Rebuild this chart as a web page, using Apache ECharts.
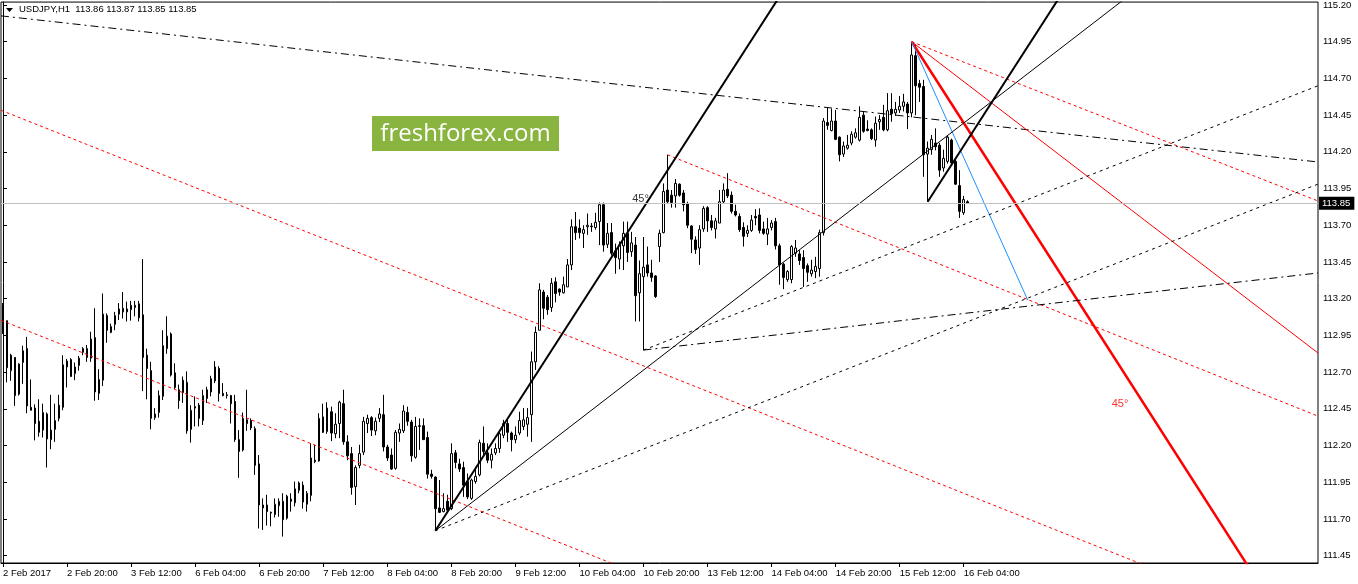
<!DOCTYPE html>
<html>
<head>
<meta charset="utf-8">
<script src="https://cdn.jsdelivr.net/npm/echarts@6/dist/echarts.min.js"></script>
<style>html,body{margin:0;padding:0;background:#fff}#c{width:1358px;height:584px}</style>
</head>
<body>
<div id="c"></div>
<script>
// ---- tick labels ----
const xTickLabels = ['2 Feb 2017','2 Feb 20:00','3 Feb 12:00','6 Feb 04:00','6 Feb 20:00','7 Feb 12:00','8 Feb 04:00','8 Feb 20:00','9 Feb 12:00','10 Feb 04:00','10 Feb 20:00','13 Feb 12:00','14 Feb 04:00','14 Feb 20:00','15 Feb 12:00','16 Feb 04:00'];
const barsPerLabel = 16;
const totalSlots = 329;
const yTicks = [111.45,111.70,111.95,112.20,112.45,112.70,112.95,113.20,113.45,113.70,113.95,114.20,114.45,114.70,114.95,115.20];

// ---- H1 candles (open, close, low, high) ----
const open = [113.16,113.05,112.71,112.80,112.55,112.765,112.86,112.46,112.455,112.365,112.305,112.415,112.24,112.31,112.385,112.46,112.735,112.785,112.69,112.745,112.835,112.86,112.795,112.935,112.555,112.645,113.085,112.97,113.025,113.095,113.11,113.13,113.125,113.14,113.165,113.09,112.815,112.71,112.39,112.425,112.535,112.86,112.96,112.695,112.505,112.56,112.63,112.31,112.455,112.475,112.37,112.52,112.565,112.64,112.725,112.555,112.545,112.54,112.50,112.24,112.17,112.375,112.37,112.315,112.075,111.795,111.795,111.745,111.73,111.79,111.82,111.705,111.835,111.81,111.895,111.93,111.80,111.86,112.10,112.095,112.395,112.295,112.43,112.28,112.35,112.485,112.225,112.145,111.92,112.065,112.155,112.35,112.39,112.30,112.385,112.41,112.19,112.135,112.045,112.285,112.30,112.425,112.36,112.12,112.33,112.335,112.255,112.005,111.985,111.775,111.75,111.82,111.77,112.15,112.075,112.05,111.955,111.84,111.955,112.00,112.215,112.15,112.10,112.15,112.18,112.27,112.35,112.285,112.24,112.285,112.33,112.345,112.41,112.77,112.985,113.245,113.21,113.14,113.315,113.265,113.24,113.28,113.43,113.69,113.68,113.645,113.69,113.69,113.685,113.725,113.84,113.57,113.65,113.525,113.47,113.56,113.645,113.52,113.565,113.24,113.35,113.43,113.375,113.355,113.555,113.65,113.94,113.905,113.90,113.98,113.92,113.845,113.695,113.60,113.545,113.675,113.82,113.73,113.675,113.715,113.86,113.945,113.905,113.795,113.76,113.685,113.645,113.665,113.76,113.77,113.675,113.64,113.685,113.725,113.56,113.435,113.33,113.33,113.51,113.505,113.48,113.425,113.37,113.385,113.405,113.65,114.40,114.345,114.41,114.30,114.185,114.225,114.26,114.30,114.28,114.45,114.355,114.35,114.28,114.405,114.435,114.35,114.49,114.465,114.485,114.51,114.525,114.465,114.855,114.665,114.645,114.185,114.215,114.26,114.245,114.09,114.135,114.28,114.135,113.97,113.785,113.86];
const close = [113.03,112.73,112.815,112.54,112.755,112.845,112.47,112.44,112.35,112.29,112.425,112.245,112.305,112.37,112.475,112.75,112.775,112.67,112.735,112.795,112.86,112.80,112.925,112.565,112.65,113.095,112.985,113.01,113.085,113.13,113.135,113.11,113.155,113.155,113.07,112.80,112.725,112.385,112.415,112.54,112.88,112.945,112.68,112.595,112.58,112.645,112.30,112.44,112.465,112.385,112.54,112.58,112.655,112.735,112.555,112.54,112.54,112.485,112.24,112.16,112.385,112.35,112.32,112.065,111.795,111.775,111.75,111.74,111.80,111.82,111.695,111.855,111.82,111.905,111.945,111.815,111.875,112.115,112.09,112.385,112.29,112.455,112.285,112.345,112.495,112.225,112.13,111.915,112.05,112.145,112.365,112.385,112.305,112.365,112.415,112.19,112.115,112.04,112.29,112.31,112.435,112.365,112.13,112.33,112.335,112.24,112.005,111.99,111.77,111.745,111.77,111.76,112.145,112.085,112.04,111.93,111.85,111.965,111.99,112.22,112.16,112.10,112.14,112.18,112.28,112.35,112.29,112.24,112.27,112.37,112.375,112.39,112.77,112.97,113.26,113.135,113.125,113.305,113.235,113.245,113.295,113.43,113.69,113.65,113.65,113.67,113.70,113.695,113.72,113.84,113.565,113.645,113.51,113.48,113.565,113.645,113.515,113.58,113.22,113.37,113.415,113.375,113.345,113.215,113.645,113.93,113.86,113.855,113.985,113.905,113.84,113.70,113.605,113.535,113.67,113.815,113.73,113.685,113.73,113.86,113.94,113.90,113.795,113.77,113.67,113.625,113.665,113.735,113.75,113.665,113.645,113.675,113.715,113.56,113.43,113.345,113.385,113.555,113.545,113.46,113.405,113.38,113.395,113.42,113.65,114.41,114.38,114.41,114.285,114.18,114.24,114.245,114.32,114.33,114.435,114.34,114.345,114.29,114.395,114.42,114.35,114.48,114.46,114.49,114.51,114.54,114.465,114.86,114.65,114.64,114.18,114.225,114.285,114.235,114.075,114.155,114.30,114.125,113.98,113.795,113.875,113.85];
const low = [112.96,112.63,112.64,112.47,112.54,112.62,112.42,112.44,112.235,112.26,112.255,112.05,112.175,112.225,112.365,112.44,112.595,112.67,112.645,112.71,112.815,112.77,112.77,112.505,112.51,112.605,112.90,112.965,112.985,113.055,113.065,113.045,113.05,113.08,113.045,112.57,112.515,112.31,112.375,112.39,112.51,112.825,112.67,112.585,112.45,112.49,112.28,112.22,112.33,112.33,112.34,112.49,112.535,112.625,112.50,112.535,112.52,112.35,112.225,111.98,112.16,112.30,112.305,112.00,111.635,111.625,111.655,111.65,111.71,111.715,111.58,111.695,111.75,111.785,111.875,111.77,111.75,111.82,112.08,112.09,112.285,112.28,112.23,112.25,112.25,112.205,112.10,111.865,111.795,112.045,112.135,112.285,112.265,112.27,112.36,112.16,112.095,112.035,112.035,112.225,112.285,112.335,112.09,112.11,112.17,112.24,111.975,111.975,111.62,111.74,111.745,111.75,111.76,112.045,112.02,111.85,111.835,111.83,111.94,111.99,112.125,112.08,112.045,112.135,112.15,112.25,112.225,112.16,112.215,112.27,112.305,112.26,112.225,112.715,112.985,113.06,113.09,113.11,113.175,113.22,113.235,113.28,113.395,113.60,113.61,113.545,113.635,113.655,113.67,113.565,113.52,113.545,113.495,113.37,113.40,113.395,113.45,113.485,113.045,113.045,112.85,113.35,113.315,113.205,113.45,113.645,113.85,113.82,113.82,113.895,113.795,113.68,113.51,113.505,113.43,113.655,113.655,113.665,113.61,113.715,113.85,113.885,113.78,113.76,113.655,113.555,113.62,113.655,113.70,113.645,113.635,113.565,113.665,113.535,113.295,113.265,113.315,113.305,113.485,113.43,113.28,113.315,113.35,113.34,113.35,113.63,114.35,114.34,114.28,114.135,114.165,114.215,114.245,114.29,114.27,114.33,114.34,114.28,114.235,114.35,114.34,114.34,114.405,114.445,114.465,114.475,114.355,114.435,114.45,114.54,114.03,113.86,114.18,114.21,114.03,114.065,114.12,114.11,113.975,113.75,113.77,113.85];
const high = [113.17,113.05,112.825,112.80,112.76,112.88,112.94,112.65,112.48,112.515,112.485,112.425,112.545,112.485,112.545,112.815,112.79,112.795,112.765,112.81,112.87,112.885,112.975,113.135,112.72,113.235,113.10,113.03,113.11,113.17,113.245,113.18,113.185,113.185,113.185,113.47,112.86,112.77,112.455,112.575,112.985,113.08,112.97,112.76,112.615,112.67,112.705,112.475,112.535,112.49,112.58,112.60,112.675,112.775,112.74,112.625,112.565,112.545,112.545,112.305,112.425,112.58,112.385,112.33,112.135,111.84,111.865,111.75,111.84,111.84,111.875,111.865,111.875,111.955,111.955,111.955,111.89,112.215,112.205,112.42,112.485,112.495,112.465,112.42,112.505,112.58,112.27,112.19,112.065,112.205,112.395,112.41,112.40,112.39,112.455,112.545,112.205,112.18,112.305,112.35,112.475,112.465,112.375,112.395,112.385,112.385,112.295,112.035,111.99,111.965,111.875,111.865,112.215,112.17,112.11,112.09,112.01,111.975,112.055,112.24,112.33,112.215,112.18,112.215,112.295,112.375,112.375,112.295,112.33,112.43,112.455,112.455,112.84,113.01,113.305,113.26,113.225,113.34,113.345,113.27,113.35,113.47,113.74,113.79,113.74,113.70,113.78,113.715,113.785,113.855,113.855,113.715,113.715,113.575,113.59,113.725,113.725,113.655,113.62,113.46,113.62,113.555,113.465,113.36,113.67,113.985,114.18,113.94,114.015,113.985,113.94,113.86,113.70,113.625,113.70,113.83,113.83,113.77,113.75,113.94,113.985,114.055,113.93,113.84,113.78,113.72,113.70,113.77,113.81,113.815,113.725,113.75,113.735,113.75,113.575,113.445,113.395,113.565,113.60,113.53,113.53,113.44,113.465,113.485,113.67,114.43,114.50,114.495,114.485,114.305,114.27,114.315,114.34,114.36,114.51,114.475,114.415,114.36,114.44,114.45,114.52,114.60,114.60,114.54,114.58,114.595,114.54,114.95,114.93,114.69,114.69,114.27,114.315,114.36,114.26,114.215,114.315,114.29,114.145,114.075,113.90,113.87];
const currentPrice = 113.85;

// ---- drawn objects: [bar index, price] anchor pairs ----
const dashDotTop   = [[-0.5, 115.126], [328.5, 114.131]];
const redDotA      = [[-0.5, 114.483], [300, 111.224]];
const redDotB      = [[-0.5, 113.053], [160, 111.312]];
const redDotD      = [[166, 114.18], [328.5, 112.40]];
const redDotE      = [[227, 114.95], [328.5, 113.865]];
const redThin      = [[227, 114.95], [328.5, 112.83]];
const redThick     = [[227, 114.95], [320, 110.997]];
const blueLine     = [[227, 114.95], [256, 113.19]];
const blackThick1  = [[108, 111.62], [200, 115.512]];
const blackThick2  = [[231, 113.86], [270, 115.51]];
const blackThin    = [[108, 111.62], [300, 115.658]];
const blackDotF    = [[108, 111.62], [328.5, 113.98]];
const blackDotG    = [[160, 112.85], [328.5, 114.65]];
const dashDotH     = [[160, 112.85], [328.5, 113.375]];
const angleLabelBlack = [[159.26, 113.879]];
const angleLabelRed   = [[279.04, 112.483]];

const FONT = '"Liberation Sans", Arial, sans-serif';

const categories = [];
for (let i = 0; i < totalSlots; i++) {
  const k = i / barsPerLabel;
  categories.push(i % barsPerLabel === 0 && k < xTickLabels.length ? xTickLabels[k] : 'slot' + i);
}
const showTick = (idx) => idx % barsPerLabel === 0 && idx / barsPerLabel < xTickLabels.length;

const candles = open.map((o, i) => [o, close[i], low[i], high[i]]);

function seg(data, color, width, type, z) {
  return {
    type: 'line', xAxisIndex: 1, yAxisIndex: 0, data: data, symbol: 'none', silent: true,
    lineStyle: { color: color, width: width, type: type }, z: z || 4, animation: false, clip: true
  };
}

const chart = echarts.init(document.getElementById('c'), null, { renderer: 'canvas' });
chart.setOption({
  animation: false,
  backgroundColor: '#fff',
  textStyle: { fontFamily: FONT },
  grid: { left: 1, right: 40, top: 2, bottom: 21, show: true, borderColor: '#000', borderWidth: 1, containLabel: false },
  xAxis: [
    {
      type: 'category', data: categories, boundaryGap: true,
      axisLine: { show: true, lineStyle: { color: '#000', width: 1 } },
      axisTick: { show: true, alignWithLabel: true, interval: (i) => showTick(i), length: 4, lineStyle: { color: '#000' } },
      axisLabel: { interval: (i) => showTick(i), align: 'left', margin: 5, color: '#000', fontSize: 9.5, fontFamily: FONT },
      splitLine: { show: false }
    },
    { type: 'value', min: -0.5, max: totalSlots - 0.5, show: false, splitLine: { show: false } }
  ],
  yAxis: [{
    type: 'value', position: 'right', min: 111.40, max: 115.22, scale: true,
    axisLine: { show: true, lineStyle: { color: '#000', width: 1 } },
    axisTick: { show: true, customValues: yTicks, length: 4, lineStyle: { color: '#000' } },
    axisLabel: { customValues: yTicks, formatter: (v) => Number(v).toFixed(2), margin: 5, color: '#000', fontSize: 9.5, fontFamily: FONT },
    splitLine: { show: false }
  }],
  series: [
    {
      type: 'candlestick', xAxisIndex: 0, yAxisIndex: 0, data: candles, barWidth: 2, z: 3,
      itemStyle: { color: '#fff', color0: '#000', borderColor: '#000', borderColor0: '#000', borderWidth: 1 },
      markLine: {
        silent: true, symbol: ['none', 'none'], animation: false,
        lineStyle: { color: '#c0c0c0', width: 1, type: 'solid' },
        label: { show: true, position: 'end', distance: 1, formatter: currentPrice.toFixed(2), color: '#fff', backgroundColor: '#000', padding: [2, 4, 1, 3], fontSize: 9.5, fontFamily: FONT },
        data: [{ yAxis: currentPrice }]
      }
    },
    seg(dashDotTop, '#000', 1, [8, 4, 2, 4]),
    seg(redDotA, '#ff0000', 1, [3, 3]),
    seg(redDotB, '#ff0000', 1, [3, 3]),
    seg(redDotD, '#ff0000', 1, [3, 3]),
    seg(redDotE, '#ff0000', 1, [3, 3]),
    seg(redThin, '#ff0000', 1, 'solid'),
    seg(redThick, '#ff0000', 2.5, 'solid'),
    seg(blueLine, '#1e90ff', 1, 'solid'),
    seg(blackThick1, '#000', 2, 'solid'),
    seg(blackThick2, '#000', 2, 'solid'),
    seg(blackThin, '#000', 1, 'solid'),
    seg(blackDotF, '#000', 1, [3, 4]),
    seg(blackDotG, '#000', 1, [3, 4]),
    seg(dashDotH, '#000', 1, [8, 4, 2, 4]),
    {
      type: 'scatter', xAxisIndex: 1, yAxisIndex: 0, data: angleLabelBlack, symbolSize: 1, silent: true, z: 6,
      itemStyle: { color: 'rgba(0,0,0,0)' },
      label: { show: true, position: 'inside', formatter: '45°', color: '#000', fontSize: 11, fontFamily: FONT }
    },
    {
      type: 'scatter', xAxisIndex: 1, yAxisIndex: 0, data: angleLabelRed, symbolSize: 1, silent: true, z: 6,
      itemStyle: { color: 'rgba(0,0,0,0)' },
      label: { show: true, position: 'inside', formatter: '45°', color: '#ff0000', fontSize: 11, fontFamily: FONT }
    }
  ],
  graphic: [
    { type: 'polygon', z: 10, shape: { points: [[6, 8], [13, 8], [9.5, 12]] }, style: { fill: '#000' } },
    { type: 'text', z: 10, left: 19, top: 4, style: { text: 'USDJPY,H1  113.86 113.87 113.85 113.85', font: '9.5px ' + FONT, fill: '#000' } },
    { type: 'rect', z: 10, shape: { x: 372, y: 116, width: 187, height: 35 }, style: { fill: '#8ab440' } },
    { type: 'text', z: 11, style: { text: 'freshforex.com', x: 465.5, y: 134, align: 'center', verticalAlign: 'middle', textAlign: 'center', textVerticalAlign: 'middle', font: '24px "Open Sans"', fill: '#fff' } }
  ]
});
</script>
</body>
</html>
